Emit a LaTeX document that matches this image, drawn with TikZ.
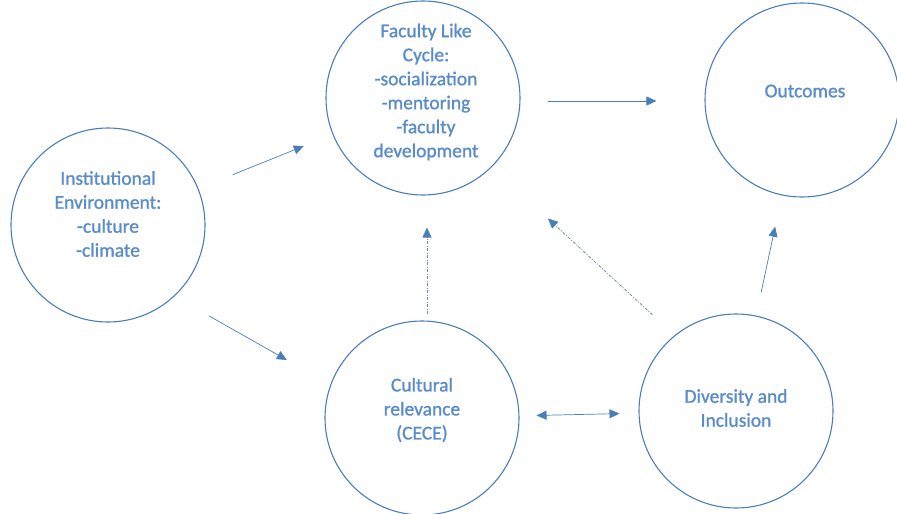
\documentclass[tikz,border=0pt]{standalone}
\usepackage{fontspec}
\setmainfont{Carlito}
\usetikzlibrary{positioning}
\usetikzlibrary{arrows.meta}

\definecolor{ringblue}{HTML}{4A7EBB}
\definecolor{wordblue}{HTML}{5A8CC9}
\definecolor{dashblue}{HTML}{7589A8}

\tikzset{
  bubble/.style={circle, draw=ringblue, line width=1.1pt, minimum size=194pt, inner sep=0pt},
  bubbletext/.style={text=wordblue, align=center,
                     font=\fontsize{19.5}{24}\selectfont\addfontfeature{FakeBold=1.2}},
  link/.style={ringblue, line width=0.7pt, arrows={-Triangle[length=10pt, width=9pt]}},
  dashlink/.style={link, dashblue, line width=0.8pt, dash pattern=on 3pt off 1.5pt on 1pt off 1.5pt,
                   arrows={-Triangle[length=10pt, width=9pt, color=ringblue]}}
}

\begin{document}
\begin{tikzpicture}[x=1pt, y=-1pt]
  \useasboundingbox (0,0) rectangle (897,514);

  % circles
  \node[bubble] (inst) at (108,225) {};
  \node[bubble] (fac) at (423,98) {};
  \node[bubble] (out) at (802,100) {};
  \node[bubble] (cult) at (422,418) {};
  \node[bubble] (div) at (736,411) {};

  % texts
  \node[bubbletext] (instTxt) at (108,214) {Institutional\\Environment:\\-culture\\-climate};
  \node[bubbletext] (facTxt) at (426,92) {Faculty Like\\Cycle:\\-socialization\\-mentoring\\-faculty\\development};
  \node[bubbletext] (outTxt) at (805,91) {Outcomes};
  \node[bubbletext] (cultTxt) at (422,410) {Cultural\\relevance\\(CECE)};
  \node[bubbletext] (divTxt) at (736,408) {Diversity and\\Inclusion};

  % arrows
  \draw[link, shorten <=37pt, shorten >=31pt] (inst) -- (fac);
  \draw[link, shorten <=40pt, shorten >=50pt] (inst.-47) -- (cult.160);
  \draw[link, shorten <=27pt, shorten >=48pt] ([yshift=-3pt]fac.east) -- ([yshift=-1pt]out.west);
  \draw[dashlink, shorten <=6pt, shorten >=32pt] ([xshift=5pt]cult.north) -- ([xshift=4pt]fac.south);
  \draw[dashlink, shorten <=30pt, shorten >=76pt] (div.129) -- (fac.-45);
  \draw[link, shorten <=24pt, shorten >=32pt] (div) -- (out);
  \draw[link, arrows={Triangle[length=10pt, width=9pt]-Triangle[length=10pt, width=9pt]},
        shorten <=17pt, shorten >=19pt] (cult) -- (div);
\end{tikzpicture}
\end{document}
